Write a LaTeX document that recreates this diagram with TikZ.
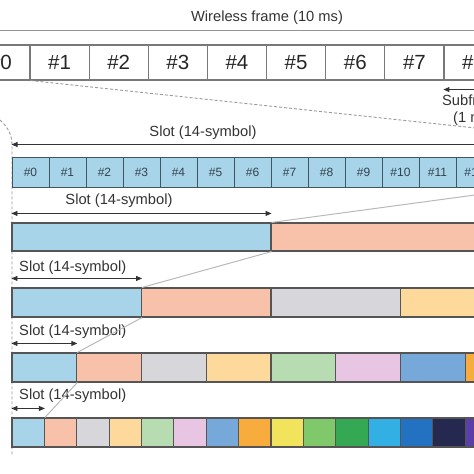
\documentclass[tikz,border=0pt]{standalone}
\usepackage{fontspec}
\setmainfont{Liberation Sans}
\usepackage{xcolor}
\usepackage{tikz}
\usetikzlibrary{arrows.meta,positioning,calc}

% slot colours (one per slot, in order)
\definecolor{sc0}{HTML}{A8D4EA}
\definecolor{sc1}{HTML}{F7C1AA}
\definecolor{sc2}{HTML}{D6D6DB}
\definecolor{sc3}{HTML}{FDD99C}
\definecolor{sc4}{HTML}{B7DCB1}
\definecolor{sc5}{HTML}{E9C5E4}
\definecolor{sc6}{HTML}{76A8D9}
\definecolor{sc7}{HTML}{F9AC3E}
\definecolor{sc8}{HTML}{F1E35C}
\definecolor{sc9}{HTML}{80C96B}
\definecolor{sc10}{HTML}{35A853}
\definecolor{sc11}{HTML}{33B0E3}
\definecolor{sc12}{HTML}{2372C2}
\definecolor{sc13}{HTML}{25294F}
\definecolor{sc14}{HTML}{5B3FA7}
\definecolor{sc15}{HTML}{8C2A6B}
\definecolor{cellline}{HTML}{555555}
\definecolor{symline}{HTML}{3F5563}
\definecolor{symtext}{HTML}{34434D}
\definecolor{txt}{HTML}{333333}

\begin{document}
\begin{tikzpicture}[x=1pt, y=-1pt,
    fcell/.style={rectangle, draw=gray!95!black, line width=1.1pt, minimum width=59.14pt, minimum height=35pt, inner sep=0pt, font=\fontsize{20.5}{24}\selectfont, text=black!85},
    sym/.style={rectangle, draw=symline, fill=sc0, line width=1pt, minimum width=37pt, minimum height=30pt, inner sep=0pt, font=\fontsize{12}{14}\selectfont, text=symtext},
    slotbox/.style={rectangle, draw=cellline, line width=1.1pt, minimum height=29pt, inner sep=0pt},
    dim/.style={{Triangle[length=6pt,width=5pt]}-{Triangle[length=6pt,width=5pt]}, line width=0.9pt, draw=txt},
    lbl/.style={font=\fontsize{14.7}{17}\selectfont, text=txt, inner sep=0pt},
    guide/.style={draw=gray!80, line width=0.9pt, dash pattern=on 3pt off 2pt},
    zoomline/.style={draw=gray!55, line width=1pt},
  ]
    \useasboundingbox (0,0) rectangle (474,474);
    \clip (0,0) rectangle (474,474);

    % Wireless frame
    \node[lbl] (wf) at (267,18) {Wireless frame (10 ms)};
    \foreach \i in {0,...,9}
      \node[fcell] (f\i) at ({0.43+59.14*\i},62.5) {\#\i};
    \draw[dim, draw=gray!85, line width=1.3pt] ([yshift=14pt]f0.north west) -- ([yshift=14pt]f9.north east);

    % Subframe
    \draw[dim] ([yshift=-9pt]f8.south west) -- ([yshift=-9pt]f8.south east);
    \node[lbl, align=center] (sf) at (474,110) {Subframe\\(1 ms)};

    % Zoom of subframe #0
    \coordinate (zoomR) at (560,137);
    \coordinate (vtop) at (12,145);
    \coordinate (vbot) at (12,455);
    \draw[guide] (f0.south east) -- (zoomR);
    \draw[guide] (f0.south west) .. controls (-15,118) and (12,118) .. (vtop) -- (vbot);

    % Symbols of one slot
    \foreach \i in {0,...,13}
      \node[sym] (s\i) at ({30.5+37*\i},172) {\#\i};
    \draw[dim] ([yshift=12pt]s0.north west) -- ([yshift=12pt]s13.north east);
    \node[lbl] (t1) at (203,133) {Slot (14-symbol)};

    % Slots per subframe: 2, 4, 8, 16
    \foreach \i in {0,1}
      \node[slotbox, minimum width=259pt, minimum height=28pt, fill=sc\i] (r1-\i) at ({141.5+259*\i},237) {};
    \foreach \i in {0,...,3}
      \node[slotbox, minimum width=129.5pt, fill=sc\i] (r2-\i) at ({76.75+129.5*\i},302.5) {};
    \foreach \i in {0,...,7}
      \node[slotbox, minimum width=64.75pt, fill=sc\i] (r3-\i) at ({44.375+64.75*\i},367.5) {};
    \foreach \i in {0,...,15}
      \node[slotbox, minimum width=32.375pt, fill=sc\i] (r4-\i) at ({28.1875+32.375*\i},432.5) {};

    % Slot lengths
    \draw[dim] ([yshift=9pt]r1-0.north west) -- ([yshift=9pt]r1-0.north east);
    \node[lbl] (t2) at (119,201) {Slot (14-symbol)};
    \draw[dim] ([yshift=9pt]r2-0.north west) -- ([yshift=9pt]r2-0.north east);
    \node[lbl, anchor=west] (t3) at (19,268) {Slot (14-symbol)};
    \draw[dim] ([yshift=9pt]r3-0.north west) -- ([yshift=9pt]r3-0.north east);
    \node[lbl, anchor=west] (t4) at (19,332) {Slot (14-symbol)};
    \draw[dim] ([yshift=9pt]r4-0.north west) -- ([yshift=9pt]r4-0.north east);
    \node[lbl, anchor=west] (t5) at (19,396) {Slot (14-symbol)};

    % Zoom lines
    \draw[zoomline] (r1-0.north east) -- (s13.south east);
    \draw[zoomline] (r2-0.north east) -- (r1-0.south east);
    \draw[zoomline] (r3-0.north east) -- (r2-0.south east);
    \draw[zoomline] (r4-0.north east) -- (r3-0.south east);

  \end{tikzpicture}
\end{document}
